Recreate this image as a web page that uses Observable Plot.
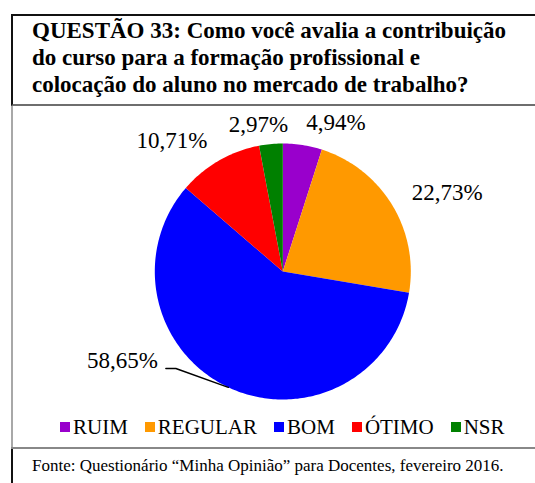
<!DOCTYPE html>
<html><head><meta charset="utf-8">
<script src="https://cdn.jsdelivr.net/npm/d3@7"></script>
<script src="https://cdn.jsdelivr.net/npm/@observablehq/plot@0.6"></script>
<style>
body{margin:0;background:#fff;}
#page{position:relative;width:535px;height:483px;overflow:hidden;font-family:"Liberation Serif","Times New Roman",serif;color:#000;}
.abs{position:absolute;}
#titlebox{left:11px;top:14px;width:540px;height:92px;box-sizing:border-box;border-top:2px solid #111;border-left:2px solid #111;border-bottom:2px solid #6e6e6e;}
#title{left:32px;top:17px;font-weight:bold;font-size:23px;line-height:27px;white-space:nowrap;}
#chartleft{left:11px;top:106px;width:2px;height:341px;background:#a8a8a8;}
#bottomline{left:11px;top:447px;width:540px;height:2px;background:#888;}
#srcleft{left:11px;top:449px;width:2px;height:40px;background:#111;}
#source{left:32px;top:456px;font-size:17px;line-height:20px;white-space:nowrap;}
#chart{left:0;top:106px;}
#legend{left:60px;top:415px;}
#legend .leg-swatches{font-family:"Liberation Serif","Times New Roman",serif;font-size:21px;margin:0;color:#000;}
#legend .leg-swatches-wrap{min-height:0;line-height:24px;flex-wrap:nowrap;}
#legend .leg-swatch{margin-right:17px;}
#legend .leg-swatch > svg{margin-right:3px;}
</style></head><body>
<div id="page">
  <div id="titlebox" class="abs"></div>
  <div id="title" class="abs"></div>
  <div id="chartleft" class="abs"></div>
  <div id="chart" class="abs"></div>
  <div id="legend" class="abs"></div>
  <div id="bottomline" class="abs"></div>
  <div id="srcleft" class="abs"></div>
  <div id="source" class="abs"></div>
</div>
<script>
const categories = ["RUIM", "REGULAR", "BOM", "ÓTIMO", "NSR"];
const values = [4.94, 22.73, 58.65, 10.71, 2.97];
const valueLabels = ["4,94%", "22,73%", "58,65%", "10,71%", "2,97%"];
const colors = ["#9900CC", "#FF9900", "#0000FF", "#FF0000", "#008000"];
const titleLines = [
  "QUESTÃO 33: Como você avalia a contribuição",
  "do curso para a formação profissional e",
  "colocação do aluno no mercado de trabalho?"
];
const sourceText = "Fonte: Questionário “Minha Opinião” para Docentes, fevereiro 2016.";

// title & source
const titleEl = document.getElementById("title");
titleLines.forEach((t, i) => {
  if (i) titleEl.appendChild(document.createElement("br"));
  titleEl.appendChild(document.createTextNode(t));
});
document.getElementById("source").textContent = sourceText;

// pie geometry (unit circle, angle 0 at 12 o'clock, clockwise)
const rows = categories.map((c, i) => ({key: c, value: values[i], label: valueLabels[i]}));
const arcs = d3.pie().sort(null).value(d => d.value)(rows);

const slicePts = [];
for (const a of arcs) {
  const n = Math.max(2, Math.ceil((a.endAngle - a.startAngle) / (Math.PI / 180)));
  slicePts.push({key: a.data.key, x: 0, y: 0});
  for (let i = 0; i <= n; i++) {
    const t = a.startAngle + (a.endAngle - a.startAngle) * i / n;
    slicePts.push({key: a.data.key, x: Math.sin(t), y: Math.cos(t)});
  }
}

// label placement (outside end, callout for bottom slices)
const labelRows = [];
const leader = [];
for (const a of arcs) {
  const t = (a.startAngle + a.endAngle) / 2;
  const ex = Math.sin(t), ey = Math.cos(t);
  if (ey < -0.7) {
    const elbow = {x: ex - 0.41, y: ey + 0.147};
    const tail = {x: elbow.x - 0.078, y: elbow.y};
    leader.push({x: tail.x, y: tail.y}, elbow, {x: ex, y: ey});
    labelRows.push({text: a.data.label, x: tail.x - 0.063, y: tail.y + 0.062, anchor: "end"});
  } else {
    const k = 1.18;
    const small = Math.abs(ex) < 0.12;
    labelRows.push({
      text: a.data.label, x: small ? ex * k - 0.08 : ex * k, y: ey * k - (small ? 0.03 : 0),
      anchor: small ? "middle" : ex > 0 ? "start" : "end"
    });
  }
}

const font = "Liberation Serif, Times New Roman, serif";
const textMark = anchor => Plot.text(labelRows.filter(d => d.anchor === anchor), {
  x: "x", y: "y", text: "text", textAnchor: anchor,
  fontSize: 23, fontFamily: font, fill: "#000"
});

const cx = 282.3, cy = 165, r = 128;
const chart = Plot.plot({
  width: 535, height: 342, margin: 0,
  x: {domain: [-1, 1], range: [cx - r, cx + r], axis: null},
  y: {domain: [-1, 1], range: [cy + r, cy - r], axis: null},
  color: {domain: categories, range: colors},
  style: {background: "transparent", overflow: "visible"},
  marks: [
    Plot.line(slicePts, {x: "x", y: "y", z: "key", fill: "key", stroke: "none", curve: "linear"}),
    Plot.line(leader, {x: "x", y: "y", stroke: "#000", strokeWidth: 1.5}),
    textMark("start"), textMark("middle"), textMark("end")
  ]
});
document.getElementById("chart").appendChild(chart);

const legend = Plot.legend({
  color: {domain: categories, range: colors, type: "categorical"},
  swatchSize: 10, className: "leg"
});
document.getElementById("legend").appendChild(legend);
</script>
</body></html>
